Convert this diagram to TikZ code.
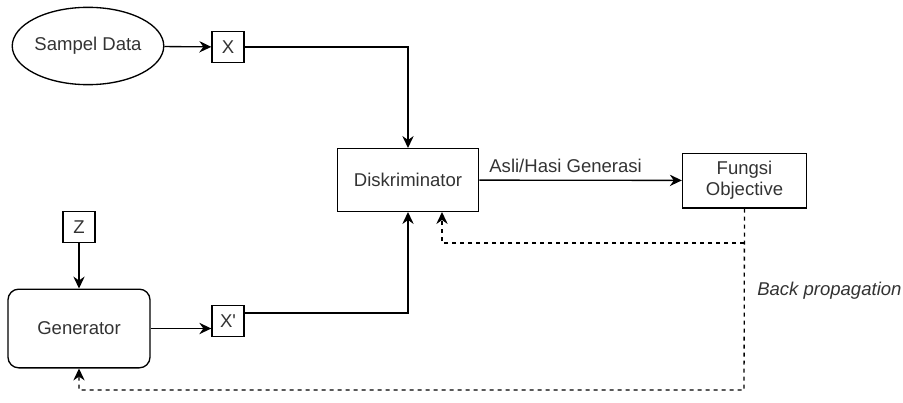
\documentclass[tikz,border=0pt]{standalone}
\usepackage{fontspec}
\newfontfamily\diagfont{Liberation Sans}
\usetikzlibrary{shapes.geometric,arrows.meta}

\begin{document}
\begin{tikzpicture}[x=0.75pt,y=-0.75pt]

		\tikzstyle{block}=[rectangle,draw=black,line width=1pt,
			text=black!80,inner sep=1mm,align=center,
			minimum height=47pt,minimum width=106pt]
		\tikzstyle{smallbox}=[block,minimum height=23.5pt,minimum width=24pt,inner sep=0pt]
		\tikzstyle{datasource}=[ellipse,draw=black,line width=1pt,text=black!80,
			minimum width=94pt,minimum height=58pt,inner sep=0pt]
		\tikzstyle{flow}=[->,>={Stealth[length=9pt,width=8.5pt,inset=3pt]},line width=1pt]
		\tikzstyle{backprop}=[flow,dash pattern=on 3pt off 3pt]

		\useasboundingbox (0,0) rectangle (903,403);
		\diagfont\fontsize{13.9pt}{16pt}\selectfont

		\node[datasource]	(sampel)	at (88,46)	{Sampel Data};
		\node[smallbox]	(x)	at (228,47)	{X};
		\node[block]	(disk)	at (408,180)	{Diskriminator};
		\node[block,minimum width=93pt,minimum height=41pt]	(fungsi)	at (744.5,180.5)	{Fungsi\\Objective};
		\node[smallbox]	(z)	at (79,227)	{Z};
		\node[block,rounded corners=8pt,minimum width=106.5pt,minimum height=59pt]	(gen)	at (79,328.5)	{Generator};
		\node[smallbox]	(xp)	at (228,321)	{X'};
		\node[text=black!80,anchor=west,inner sep=0pt]	(bplabel)	at (757,291)	{\itshape Back propagation};

		\coordinate	(branch)	at (744,243);
		\coordinate	(loop)	at (744,390);

		\draw[flow] (sampel) -- (x);
		\draw[flow] (x.east) -| (disk.north);
		\draw[flow] (disk) -- node[pos=0.426,above=4pt,inner sep=1pt,text=black!80]{Asli/Hasi Generasi} (fungsi);
		\draw[flow] (z) -- (gen);
		\draw[flow] (gen.east) -- (gen.east -| xp.west);
		\draw[flow] ([yshift=6pt]xp.east) -| (disk.south);

		\draw[backprop] (fungsi.south) -- (loop) -| (gen.south);
		\draw[backprop] (branch) -| ([xshift=25.5pt]disk.south);

	\end{tikzpicture}
\end{document}
